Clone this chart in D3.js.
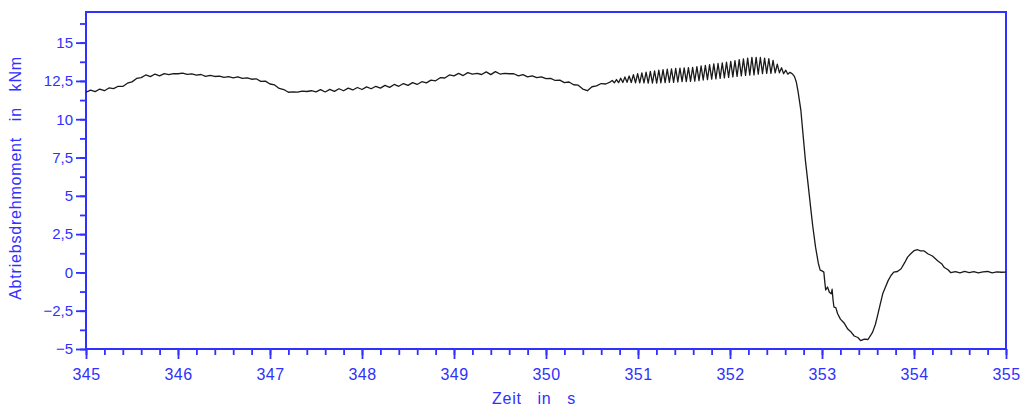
<!DOCTYPE html>
<html>
<head>
<meta charset="utf-8">
<script src="https://cdn.jsdelivr.net/npm/d3@7"></script>
<style>
  body { margin: 0; background: #fff; }
  text { font-family: "Liberation Sans", Arial, sans-serif; }
</style>
</head>
<body>
<div id="myChart"></div>
<script>

// tick values and labels
var xTicks = [345, 346, 347, 348, 349, 350, 351, 352, 353, 354, 355];
var yTicks = [-5, -2.5, 0, 2.5, 5, 7.5, 10, 12.5, 15];
var yLabels = ["\u22125", "\u22122,5", "0", "2,5", "5", "7,5", "10", "12,5", "15"];

// calm part: starts at 345.00, one value every 0.05 s
var calmStart = 345.0, calmStep = 0.05;
var calmValues = [
  11.76, 11.90, 11.80, 11.97, 11.86, 12.04, 12.00, 12.15, 12.14, 12.35,
  12.44, 12.66, 12.72, 12.89, 12.78, 12.95, 12.83, 12.98, 12.91, 12.97,
  12.97, 13.01, 12.93, 12.96, 12.88, 12.92, 12.80, 12.86, 12.79, 12.81,
  12.73, 12.78, 12.70, 12.76, 12.67, 12.70, 12.61, 12.64, 12.47, 12.49,
  12.30, 12.24, 12.01, 11.94, 11.76, 11.79, 11.77, 11.84, 11.81, 11.86,
  11.79, 11.93, 11.78, 11.95, 11.82, 11.99, 11.86, 12.03, 11.91, 12.07,
  11.94, 12.11, 11.99, 12.15, 12.03, 12.21, 12.08, 12.27, 12.15, 12.33,
  12.21, 12.39, 12.27, 12.45, 12.37, 12.55, 12.51, 12.71, 12.69, 12.89,
  12.83, 12.99, 12.85, 13.04, 12.95, 12.99, 12.92, 13.09, 12.91, 13.11,
  12.95, 12.99, 12.97, 12.97, 12.83, 12.91, 12.77, 12.83, 12.71, 12.77,
  12.65, 12.67, 12.53, 12.55, 12.39, 12.43, 12.25, 12.22, 11.97, 11.86,
  12.12, 12.18, 12.33, 12.30, 12.44
];

// oscillating part: starts at 350.72, one value every 0.023 s
var oscStart = 350.72, oscStep = 0.023;
var oscValues = [
  12.53, 12.38, 12.59, 12.39, 12.68, 12.40, 12.76, 12.41, 12.82, 12.40,
  12.91, 12.38, 12.98, 12.37, 13.03, 12.37, 13.07, 12.36, 13.12, 12.36,
  13.16, 12.36, 13.21, 12.38, 13.24, 12.39, 13.27, 12.40, 13.29, 12.41,
  13.32, 12.43, 13.34, 12.45, 13.35, 12.46, 13.37, 12.47, 13.39, 12.49,
  13.43, 12.52, 13.48, 12.56, 13.51, 12.58, 13.56, 12.62, 13.61, 12.64,
  13.64, 12.67, 13.68, 12.70, 13.73, 12.73, 13.78, 12.76, 13.83, 12.80,
  13.89, 12.83, 13.94, 12.86, 13.99, 12.88, 14.04, 12.90, 14.04, 12.94,
  14.03, 12.98, 13.99, 12.99, 13.95, 12.99, 13.84, 13.03, 13.60, 13.03,
  13.36, 12.97, 13.20, 12.94, 13.06
];

// drop and settling part
var dropTimes = [
  352.68, 352.70, 352.72, 352.74, 352.77, 352.80, 352.82, 352.85, 352.88, 352.90,
  352.93, 352.96, 352.98, 353.00, 353.02, 353.03, 353.04, 353.06, 353.08, 353.10,
  353.11, 353.12, 353.13, 353.15, 353.17, 353.20, 353.24, 353.28, 353.31, 353.35,
  353.39, 353.42, 353.46, 353.50, 353.53, 353.55, 353.58, 353.60, 353.63, 353.66,
  353.69, 353.72, 353.75, 353.78, 353.82, 353.86, 353.90, 353.93, 353.97, 354.00,
  354.04, 354.07, 354.11, 354.15, 354.20, 354.26, 354.30, 354.33, 354.37, 354.40,
  354.45, 354.50, 354.55, 354.60, 354.65, 354.70, 354.75, 354.80, 354.85, 354.90,
  354.95, 355.00
];
var dropValues = [
  12.95, 12.80, 12.45, 11.80, 10.60, 8.60, 7.30, 5.70, 4.05, 3.00,
  1.65, 0.60, 0.15, 0.10, 0.02, -0.60, -1.15, -0.95, -1.30, -1.40,
  -1.10, -1.80, -2.26, -2.30, -2.70, -3.05, -3.30, -3.70, -3.85, -4.15,
  -4.25, -4.45, -4.35, -4.38, -4.10, -3.90, -3.40, -2.92, -2.15, -1.40,
  -0.95, -0.52, -0.20, 0.02, 0.06, 0.24, 0.65, 1.00, 1.25, 1.42,
  1.48, 1.41, 1.40, 1.22, 1.07, 0.75, 0.57, 0.32, 0.17, -0.02,
  0.05, -0.03, 0.06, -0.02, 0.05, -0.03, 0.04, 0.06, -0.03, 0.04,
  0.01, 0.02
];

// Building one point list from the three parts
var points = [];
calmValues.forEach(function(v, i) { points.push([calmStart + i * calmStep, v]); });
oscValues.forEach(function(v, i) { points.push([oscStart + i * oscStep, v]); });
dropValues.forEach(function(v, i) { points.push([dropTimes[i], v]); });

var width = 1023;
var height = 407;
var blue = "#3030ff";
var plot = {left: 86, right: 1006, top: 12, bottom: 349};

var svg = d3.select("#myChart")
  .append("svg")
  .attr("width", width)
  .attr("height", height);

var xScale = d3.scaleLinear().domain([345, 355]).range([plot.left, plot.right]);
var yScale = d3.scaleLinear().domain([-5, 17]).range([plot.bottom, plot.top]);

// minor ticks
var xMinor = d3.range(345, 355.001, 0.2);
var yMinor = d3.range(-5, 17.001, 1.25);

svg.append("g")
  .attr("transform", "translate(0," + plot.bottom + ")")
  .call(d3.axisBottom(xScale).tickValues(xMinor).tickSize(6).tickFormat(""))
  .call(function(g) { g.select(".domain").remove(); });

svg.append("g")
  .attr("transform", "translate(" + plot.left + ",0)")
  .call(d3.axisLeft(yScale).tickValues(yMinor).tickSize(6).tickFormat(""))
  .call(function(g) { g.select(".domain").remove(); });

// major ticks with labels
var xAxis = svg.append("g")
  .attr("transform", "translate(0," + plot.bottom + ")")
  .call(d3.axisBottom(xScale).tickValues(xTicks).tickSize(10).tickSizeOuter(0)
    .tickFormat(function(d) { return d; }));

xAxis.selectAll("text")
  .attr("dy", "1.1em")
  .style("font-size", "16px")
  .style("letter-spacing", "0.5px");

var yAxis = svg.append("g")
  .attr("transform", "translate(" + plot.left + ",0)")
  .call(d3.axisLeft(yScale).tickValues(yTicks).tickSize(10).tickSizeOuter(0)
    .tickFormat(function(d, i) { return yLabels[i]; }));

yAxis.selectAll("text")
  .attr("x", -13)
  .style("font-size", "15px");

svg.selectAll(".domain").attr("stroke", blue);
svg.selectAll(".tick line").attr("stroke", blue).attr("stroke-width", 1.8);
svg.selectAll(".tick text").attr("fill", blue);

// frame
svg.append("rect")
  .attr("x", plot.left)
  .attr("y", plot.top)
  .attr("width", plot.right - plot.left)
  .attr("height", plot.bottom - plot.top)
  .attr("fill", "none")
  .attr("stroke", blue)
  .attr("stroke-width", 2);

// curve
var line = d3.line()
  .x(function(d) { return xScale(d[0]); })
  .y(function(d) { return yScale(d[1]); });

svg.append("path")
  .datum(points)
  .attr("d", line)
  .attr("fill", "none")
  .attr("stroke", "#1a1a1a")
  .attr("stroke-width", 1.3)
  .attr("stroke-linejoin", "round");

// axis titles
svg.append("text")
  .attr("transform", "translate(21,178) rotate(-90)")
  .attr("text-anchor", "middle")
  .attr("fill", blue)
  .style("font-size", "16px")
  .style("letter-spacing", "0.8px")
  .style("white-space", "pre")
  .text("Abtriebsdrehmoment   in   kNm");

svg.append("text")
  .attr("x", 534)
  .attr("y", 404)
  .attr("text-anchor", "middle")
  .attr("fill", blue)
  .style("font-size", "16px")
  .style("letter-spacing", "0.8px")
  .style("white-space", "pre")
  .text("Zeit   in   s");

</script>
</body>
</html>
